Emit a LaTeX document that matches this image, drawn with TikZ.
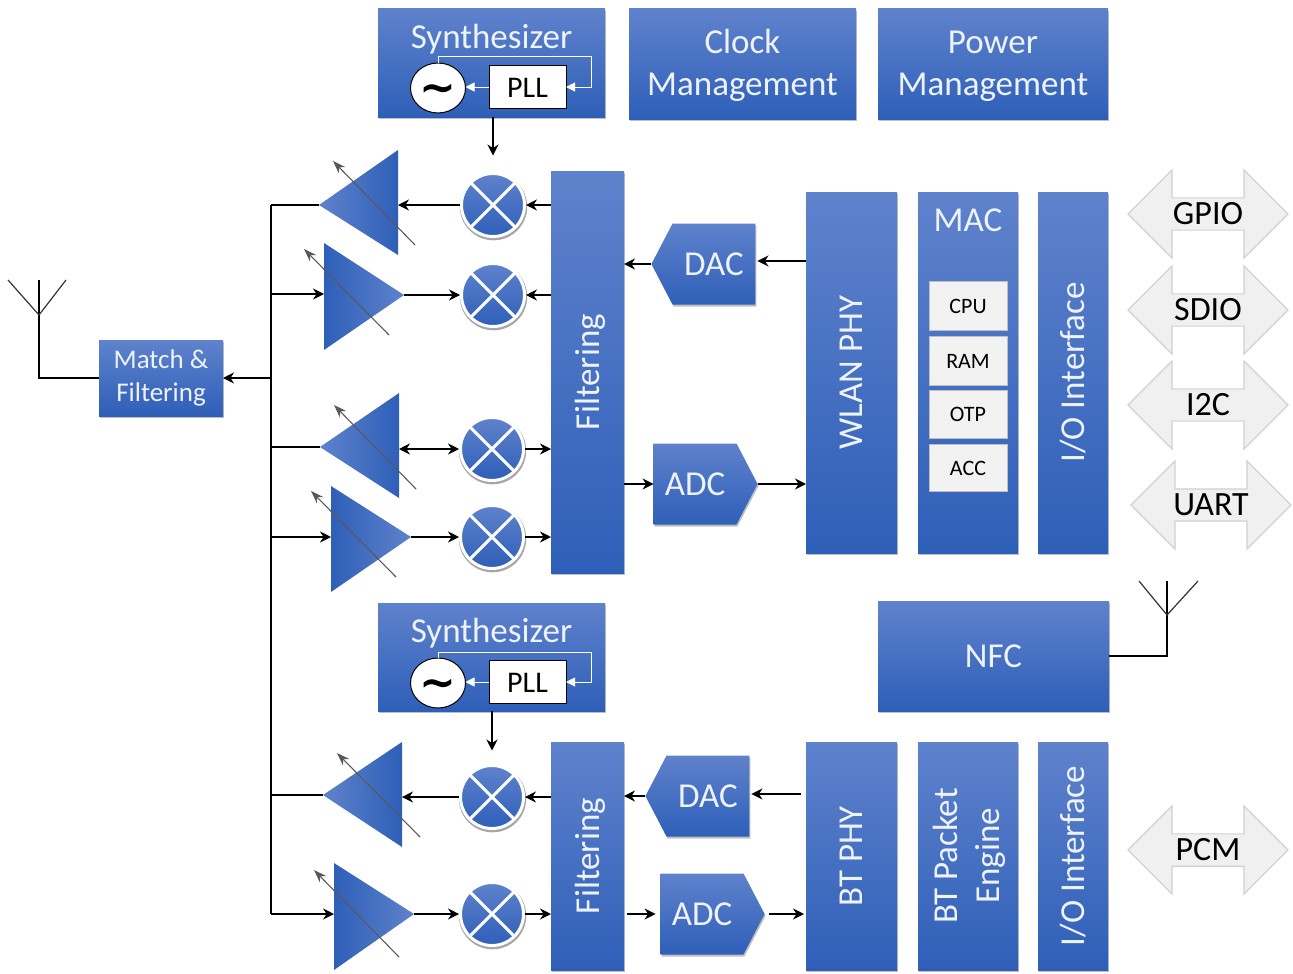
\documentclass[tikz,border=0pt]{standalone}
\usepackage{fontspec}
\setmainfont{Carlito}
\newfontfamily\symfont{DejaVu Sans}
\usetikzlibrary{arrows.meta,shadows,shapes.geometric,shapes.arrows,shapes.symbols,calc}
\definecolor{bluetop}{HTML}{5F82CC}
\definecolor{bluebot}{HTML}{2E5FB8}
\definecolor{txt}{HTML}{EDF2FB}
\tikzset{
  softshadow/.style={drop shadow={shadow xshift=1pt,shadow yshift=-2pt,opacity=.25,fill=black}},
  bluebox/.style={rectangle,inner sep=0pt,outer sep=0pt,top color=bluetop,bottom color=bluebot,softshadow,text=txt,align=center,font=\fontsize{35}{42}\selectfont},
  memcell/.style={rectangle,draw=black!25,fill=black!5,inner sep=0pt,outer sep=0pt,minimum width=78pt,font=\fontsize{22}{26}\selectfont,text=black},
  io/.style={double arrow,draw=black!18,line width=1.2pt,fill=black!6,minimum width=88pt,minimum height=160pt,double arrow head extend=22pt,double arrow tip angle=90,inner sep=1pt,outer sep=0pt,text=black,font=\fontsize{34}{36}\selectfont},
  conv/.style={signal,signal from=nowhere,signal pointer angle=125,inner sep=0pt,outer sep=0pt,minimum width=104pt,minimum height=81pt,top color=bluetop,bottom color=bluebot,softshadow,text=txt,font=\fontsize{35}{38}\selectfont},
  mixer/.style={circle,draw=white,line width=3pt,minimum size=63pt,inner sep=0pt,outer sep=0pt,top color=bluetop,bottom color=bluebot,drop shadow={shadow scale=1.07,shadow xshift=0.5pt,shadow yshift=-1.5pt,opacity=.35,fill=black}},
  cross/.style={white,line width=3pt},
  osc/.style={ellipse,draw=black,fill=white,line width=1pt,minimum width=55pt,minimum height=50pt,inner sep=0pt,outer sep=0pt,font=\symfont\bfseries\fontsize{44}{44}\selectfont},
  pll/.style={rectangle,draw=black,fill=white,line width=1pt,minimum width=77pt,minimum height=43pt,inner sep=0pt,outer sep=0pt,font=\fontsize{30}{32}\selectfont,text=black},
  wire/.style={draw=black,line width=1.2pt},
  arr/.style={wire,-{Stealth[length=11pt,width=11pt]}},
  warr/.style={draw=white,line width=1pt,-{Stealth[length=9pt,width=9pt,inset=0pt]}},
  tune/.style={draw=black!65,line width=1.1pt,-{Stealth[length=13pt,width=9pt]}},
  ampl/.style={left color=bluetop,right color=bluebot},
  ampr/.style={left color=bluebot,right color=bluetop},
  ant/.style={draw=black!80,line width=1.2pt},
}
\begin{document}
\begin{tikzpicture}[x=1pt,y=-1pt]
\useasboundingbox (0,0) rectangle (1293,974);
% top row
\node[bluebox,minimum width=227pt,minimum height=108pt] (syn1) at (491.5,63) {};
\node[text=txt,font=\fontsize{35}{38}\selectfont] (syn1t) at (491.5,39) {Synthesizer};
\node[bluebox,minimum width=227pt,minimum height=110pt] (clock) at (742.5,64) {\raisebox{-2pt}[\height][\depth]{\begin{tabular}{@{}c@{}}Clock\\Management\end{tabular}}};
\node[bluebox,minimum width=230pt,minimum height=110pt] (power) at (993,64) {\raisebox{-2pt}[\height][\depth]{\begin{tabular}{@{}c@{}}Power\\Management\end{tabular}}};
% tall blocks
\node[bluebox,minimum width=73pt,minimum height=402pt] (f1) at (587.5,372) {\hspace*{6pt}\rotatebox{90}{Filtering}};
\node[bluebox,minimum width=91pt,minimum height=361pt] (wlan) at (851.5,372.5) {\rotatebox{90}{WLAN PHY}};
\node[bluebox,minimum width=100pt,minimum height=361pt] (mac) at (968,372.5) {};
\node[text=txt,font=\fontsize{35}{38}\selectfont] (mact) at (968,220) {MAC};
\node[bluebox,minimum width=70pt,minimum height=361pt] (io1) at (1073,372.5) {\rotatebox{90}{I/O Interface}};
\node[memcell,minimum height=49pt] (cpu) at (968,306) {CPU};
\node[memcell,minimum height=49pt] (ram) at (968,361) {RAM};
\node[memcell,minimum height=48pt] (otp) at (968,414) {OTP};
\node[memcell,minimum height=47pt] (acc) at (968,468) {ACC};
\node[bluebox,minimum width=124pt,minimum height=76pt,font=\fontsize{27}{33}\selectfont] (match) at (161,378) {Match \&\\Filtering};
\node[bluebox,minimum width=227pt,minimum height=108pt] (syn2) at (491.5,657) {};
\node[text=txt,font=\fontsize{35}{38}\selectfont] (syn2t) at (491.5,633) {Synthesizer};
\node[bluebox,minimum width=231pt,minimum height=110pt] (nfc) at (993.5,656) {NFC};
\node[bluebox,minimum width=73pt,minimum height=228pt] (f2) at (587.5,856) {\hspace*{6pt}\rotatebox{90}{Filtering}};
\node[bluebox,minimum width=91pt,minimum height=228pt] (btphy) at (851.5,856) {\rotatebox{90}{BT PHY}};
\node[bluebox,minimum width=100pt,minimum height=228pt] (btpe) at (968,856) {\hspace*{4pt}\rotatebox{90}{\begin{tabular}{@{}c@{}}BT Packet\\Engine\end{tabular}}};
\node[bluebox,minimum width=70pt,minimum height=228pt] (io2) at (1073,856) {\rotatebox{90}{I/O Interface}};
% converters
\node[conv,signal to=west] (dac1) at (714,264) {DAC};
\node[conv,signal to=east] (adc1) at (695,484) {ADC};
\node[conv,signal to=west] (dac2) at (708,796) {DAC};
\node[conv,signal to=east] (adc2) at (702,914) {ADC};
% oscillators and PLLs
\foreach \n/\y in {1/88,2/683}{
  \node[osc] (osc\n) at (438,\y) {\raisebox{-5pt}[\height][\depth]{∼}};
  \node[pll] (pll\n) at (527.5,\y-1) {\raisebox{-1pt}[\height][\depth]{PLL}};
  \draw[warr] (pll\n.west) -- (pll\n.west -| osc\n.east);
  \coordinate (fb\n) at (591,\y-31);
  \draw[warr] (osc\n.north) -- (osc\n.north |- fb\n) -- (fb\n) -- (fb\n |- pll\n) -- (pll\n.east);
}
% mixers
\node[mixer] (m1) at (493,205) {};
\node[mixer] (m2) at (493,295) {};
\node[mixer] (m3) at (492,449) {};
\node[mixer] (m4) at (492,537) {};
\node[mixer] (m5) at (492,797) {};
\node[mixer] (m6) at (492,914) {};
\foreach \m in {m1,m2,m3,m4,m5,m6}{
  \draw[cross] (\m.45) -- (\m.225);
  \draw[cross] (\m.135) -- (\m.315);
}
% amplifier coordinates
\coordinate (a1) at (319,205); \coordinate (a1b) at (398,205);
\coordinate (a2) at (404,295); \coordinate (a2b) at (324,294);
\coordinate (a3) at (320,447); \coordinate (a3b) at (399,449);
\coordinate (a4) at (411,537); \coordinate (a4b) at (331,537);
\coordinate (a5) at (323,795); \coordinate (a5b) at (402,797);
\coordinate (a6) at (414,914); \coordinate (a6b) at (334,914);
\coordinate (bt) at (271,205); \coordinate (bb) at (271,914);
% bus
\draw[wire] (bt) -- (bb);
\draw[wire] (bt) -- (a1);
\draw[arr] (bb |- a2b) -- (a2b);
\draw[wire] (bb |- a3) -- (a3);
\draw[arr] (bb |- a4b) -- (a4b);
\draw[wire] (bb |- a5) -- (a5);
\draw[arr] (bb) -- (a6b);
\draw[arr,line width=2pt] (bb |- match.east) -- (match.east);
% amplifiers
\shade[ampl] (a1) -- (398,150) -- (398,255) -- cycle;
\shade[ampr] (324,243) -- (324,350) -- (a2) -- cycle;
\shade[ampl] (a3) -- (399,393) -- (399,498) -- cycle;
\shade[ampr] (331,486) -- (331,592) -- (a4) -- cycle;
\shade[ampl] (a5) -- (402,742) -- (402,847) -- cycle;
\shade[ampr] (334,863) -- (334,970) -- (a6) -- cycle;
\draw[tune] (415,245) -- (333,161);
\draw[tune] (389,335) -- (304,249);
\draw[tune] (416,489) -- (334,405);
\draw[tune] (396,577) -- (311,491);
\draw[tune] (420,837) -- (337,753);
\draw[tune] (399,957) -- (314,870);
% signal arrows
\draw[arr] (syn1.south -| m1) -- ($(m1.north)+(0,-18)$);
\draw[arr] (syn2.south -| m5) -- ($(m5.north)+(0,-15)$);
\draw[arr] (m1) ++(-33,0) -- (a1b);
\draw[arr] (a2) -- ($(m2)+(-33,0)$);
\draw[arr,{Stealth[length=11pt,width=11pt]}-{Stealth[length=11pt,width=11pt]}] (a3b) -- ($(m3)+(-33,0)$);
\draw[arr] (a4) -- ($(m4)+(-33,0)$);
\draw[arr] ($(m5)+(-33,0)$) -- (a5b);
\draw[arr] (a6) -- ($(m6)+(-33,0)$);
\draw[arr] (m1 -| f1.west) -- ($(m1)+(33,0)$);
\draw[arr] (m2 -| f1.west) -- ($(m2)+(33,0)$);
\draw[arr] ($(m3)+(33,0)$) -- (m3 -| f1.west);
\draw[arr] ($(m4)+(33,0)$) -- (m4 -| f1.west);
\draw[arr] (m5 -| f2.west) -- ($(m5)+(33,0)$);
\draw[arr] ($(m6)+(33,0)$) -- (m6 -| f2.west);
\draw[arr] (dac1.west) -- (dac1.west -| f1.east);
\draw[arr] ($(dac1.east -| wlan.west)+(0,-3)$) -- ($(dac1.east)+(2,-3)$);
\draw[arr] (adc1.west -| f1.east) -- (adc1.west);
\draw[arr] (adc1.east) -- (adc1.east -| wlan.west);
\draw[arr] (dac2.west) -- (dac2.west -| f2.east);
\draw[arr] ($(dac2.east -| btphy.west)+(-5,-2)$) -- ($(dac2.east)+(2,-2)$);
\draw[arr] ($(adc2.west -| f2.east)+(3,0)$) -- ($(adc2.west)+(-5,0)$);
\draw[arr] ($(adc2.east)+(4,0)$) -- ($(adc2.east -| btphy.west)+(-2,0)$);
% antennas
\coordinate (an1) at (39,280); \coordinate (an1j) at (39,315);
\draw[wire] (match.west) -- (match.west -| an1) -- (an1);
\draw[ant] (8,280) -- (an1j) -- (66,280);
\coordinate (an2) at (1167,581); \coordinate (an2j) at (1167,615);
\draw[wire] (nfc.east) -- (nfc.east -| an2) -- (an2);
\draw[ant] (1139,581) -- (an2j) -- (1198,581);
% interfaces
\node[io] (gpio) at (1208,214) {GPIO};
\node[io] (sdio) at (1208,310) {SDIO};
\node[io] (i2c) at (1208,405) {I2C};
\node[io] (uart) at (1211,505) {UART};
\node[io] (pcm) at (1208,850) {PCM};
\end{tikzpicture}
\end{document}
